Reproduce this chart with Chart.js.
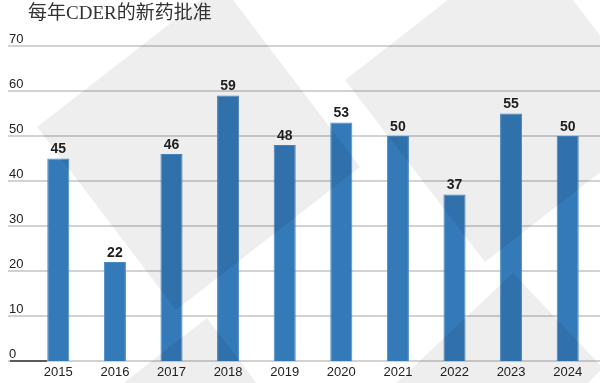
<!DOCTYPE html>
<html>
<head>
<meta charset="utf-8">
<script src="https://cdn.jsdelivr.net/npm/chart.js@4.4.1/dist/chart.umd.min.js"></script>
<style>
html, body { margin: 0; padding: 0; background: #fff; }
#c { display: block; }
</style>
</head>
<body>
<canvas id="c" width="600" height="383"></canvas>
<script>
// 每年CDER的新药批准
var chartTitle = '每年CDER的新药批准';
var years = ['2015', '2016', '2017', '2018', '2019', '2020', '2021', '2022', '2023', '2024'];
var approvals = [45, 22, 46, 59, 48, 53, 50, 37, 55, 50];
var yTicks = [0, 10, 20, 30, 40, 50, 60, 70];

// grey background panels (decoration only, canvas px)
var panels = [
    [[221, -16], [37, 127], [176, 310], [360, 167]],
    [[526, -61], [345, 80], [485, 262], [666, 121]],
    [[207, 318], [40, 448], [300, 440]],
    [[513, 273], [603, 368], [585, 386], [393, 386]]
];

var sans = "'Liberation Sans', Arial, sans-serif";

var decor = {
    id: 'decor',
    beforeDatasetsDraw: function (chart) {
        var ctx = chart.ctx, y = chart.scales.y, area = chart.chartArea;
        ctx.save();
        yTicks.forEach(function (t) {
            var py = Math.round(y.getPixelForValue(t));
            ctx.strokeStyle = '#d2d2d2';
            ctx.lineWidth = 2;
            ctx.beginPath();
            ctx.moveTo(8, py);
            ctx.lineTo(600, py);
            ctx.stroke();
            if (t === 0) {
                ctx.strokeStyle = '#333';
                ctx.lineWidth = 1.5;
                ctx.beginPath();
                ctx.moveTo(10, py);
                ctx.lineTo(area.left + 17, py);
                ctx.stroke();
            }
            ctx.fillStyle = '#222';
            ctx.font = '13px ' + sans;
            ctx.textAlign = 'left';
            ctx.textBaseline = 'alphabetic';
            ctx.fillText(String(t), 9, py - 3);
        });
        ctx.restore();
    },
    afterDatasetsDraw: function (chart) {
        var ctx = chart.ctx;
        ctx.save();
        ctx.fillStyle = 'rgba(0,0,0,0.065)';
        panels.forEach(function (p) {
            ctx.beginPath();
            ctx.moveTo(p[0][0], p[0][1]);
            for (var i = 1; i < p.length; i++) ctx.lineTo(p[i][0], p[i][1]);
            ctx.closePath();
            ctx.fill();
        });
        // value labels
        ctx.fillStyle = '#1e1e1e';
        ctx.font = 'bold 14px ' + sans;
        ctx.textAlign = 'center';
        ctx.textBaseline = 'bottom';
        chart.getDatasetMeta(0).data.forEach(function (bar, i) {
            ctx.fillText(String(approvals[i]), bar.x, bar.y - 2);
        });
        // title
        ctx.fillStyle = '#333';
        ctx.font = "19px 'Liberation Serif', 'Noto Sans CJK SC', serif";
        ctx.textAlign = 'left';
        ctx.textBaseline = 'middle';
        ctx.fillText(chartTitle, 28, 14);
        ctx.restore();
    }
};

new Chart(document.getElementById('c').getContext('2d'), {
    type: 'bar',
    data: {
        labels: years,
        datasets: [{
            data: approvals,
            backgroundColor: '#3479b8',
            borderColor: '#4a8ac6',
            borderWidth: 1,
            barPercentage: 0.39,
            categoryPercentage: 1
        }]
    },
    options: {
        responsive: false,
        animation: false,
        layout: { padding: { left: 30, right: 4, top: 46, bottom: 2 } },
        plugins: { legend: { display: false }, tooltip: { enabled: false } },
        scales: {
            x: {
                grid: { display: false, drawTicks: false },
                border: { display: false },
                ticks: { color: '#222', font: { family: sans, size: 13 }, padding: 4 },
                afterFit: function (scale) { scale.height = 20; }
            },
            y: {
                display: false,
                min: 0,
                max: 70
            }
        }
    },
    plugins: [decor]
});
</script>
</body>
</html>
